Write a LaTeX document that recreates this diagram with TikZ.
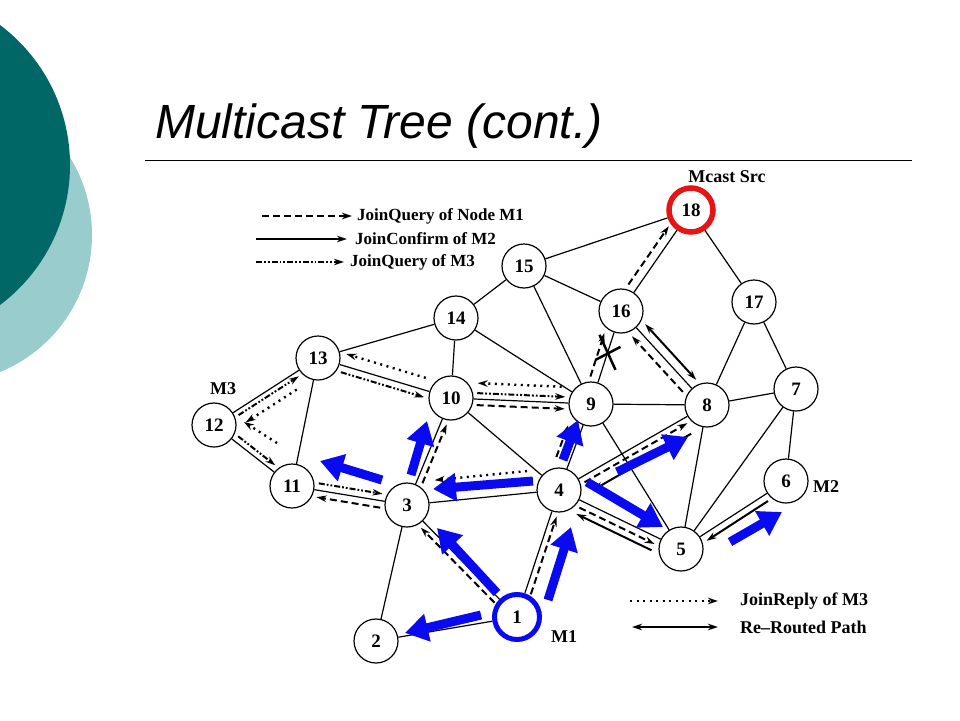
\documentclass[tikz,border=0pt]{standalone}
\usepackage{fontspec}
\setmainfont{Liberation Serif}
\newfontfamily\titlefont{Liberation Sans}
\usetikzlibrary{calc,arrows.meta}
\definecolor{darkteal}{RGB}{0,102,102}
\definecolor{lightteal}{RGB}{153,204,204}
\definecolor{blueC}{RGB}{10,10,240}
\definecolor{redC}{RGB}{230,20,20}
\newcommand\proto[6]{\draw[#1] ($(#2)!#5!(#3)!#4!90:(#3)$) -- ($(#3)!#6!(#2)!#4!-90:(#2)$);}
\tikzset{
  nd/.style={circle, draw, line width=1.2pt, minimum size=44pt, inner sep=0pt, font=\bfseries\fontsize{19}{19}\selectfont},
  edge/.style={line width=1.2pt},
  tipk/.style={-{Stealth[length=10pt,width=6.5pt]}},
  jqa/.style={tipk, line width=2pt, dash pattern=on 7pt off 4pt},
  jcb/.style={tipk, line width=2pt},
  jqc/.style={tipk, line width=2pt, dash pattern=on 6pt off 2pt on 1.8pt off 2pt on 1.8pt off 2pt},
  jrc/.style={tipk, line width=2.4pt, dash pattern=on 2pt off 4.5pt},
  rrt/.style={{Stealth[length=10pt,width=6.5pt]}-{Stealth[length=10pt,width=6.5pt]}, line width=2pt},
  bluearr/.style={draw=blueC, line width=9pt, -{Triangle[length=23pt,width=27pt]}},
  lbl/.style={font=\bfseries\fontsize{18}{18}\selectfont, inner sep=0pt},
  legtxt/.style={font=\bfseries\fontsize{17}{17}\selectfont, inner sep=0pt, anchor=west},
}
\begin{document}
\begin{tikzpicture}[x=1pt,y=-1pt]
\useasboundingbox (0,0) rectangle (960,720);
\begin{scope}
\clip (0,0) rectangle (960,720);
\fill[lightteal] (-56,235) circle[radius=148pt];
\fill[darkteal] (-105,165) circle[radius=175pt];
\end{scope}
% title
\node[anchor=base west, inner sep=0pt, font=\titlefont\itshape\fontsize{48}{56}\selectfont] (title) at (155,138) {Multicast Tree (cont.)};
\coordinate (ruleL) at (145,160);
\coordinate (ruleR) at (912,160);
\draw[line width=1pt] (ruleL) -- (ruleR);
% nodes
\node[nd, draw=blueC, line width=5pt, minimum size=45pt] (1) at (517,617) {1};
\node[nd] (2) at (376,641) {2};
\node[nd] (3) at (407,505) {3};
\node[nd] (4) at (559,490) {4};
\node[nd] (5) at (681,549) {5};
\node[nd] (6) at (786,481) {6};
\node[nd] (7) at (796,389) {7};
\node[nd] (8) at (707,405) {8};
\node[nd] (9) at (591,404) {9};
\node[nd] (10) at (451,398) {10};
\node[nd] (11) at (292,486) {11};
\node[nd] (12) at (214,425) {12};
\node[nd] (13) at (318,358) {13};
\node[nd] (14) at (456,318) {14};
\node[nd] (15) at (524,266) {15};
\node[nd] (16) at (621,311) {16};
\node[nd] (17) at (754,302) {17};
\node[nd, draw=redC, line width=5.5pt, minimum size=44pt] (18) at (691,210) {18};
% labels
\node[lbl] (m3) at (223,389) {M3};
\node[lbl] (m1) at (564,637) {M1};
\node[lbl] (m2) at (826,487) {M2};
\node[lbl] (src) at (727,177) {Mcast Src};
% edges
\draw[edge] (1)--(2) (1)--(3) (1)--(4) (2)--(3) (3)--(4) (3)--(10) (3)--(11)
  (4)--(10) (4)--(9) (4)--(8) (4)--(5) (5)--(9) (5)--(8) (5)--(7) (5)--(6)
  (6)--(7) (7)--(8) (7)--(17) (8)--(17) (8)--(16) (8)--(9) (9)--(16) (9)--(15)
  (9)--(14) (9)--(10) (10)--(14) (10)--(13) (13)--(14) (13)--(11) (13)--(12)
  (12)--(11) (14)--(15) (15)--(18) (15)--(16) (16)--(18) (17)--(18);
% JoinQuery of M1 (dashed)
\proto{jqa}{1}{3}{6pt}{26pt}{26pt}
\proto{jqa}{1}{4}{-6pt}{26pt}{26pt}
\proto{jqa}{3}{10}{-6pt}{26pt}{26pt}
\proto{jqa}{3}{11}{7pt}{26pt}{26pt}
\proto{jqa}{4}{5}{-7pt}{26pt}{26pt}
\proto{jqa}{4}{8}{-6pt}{26pt}{26pt}
\proto{jqa}{10}{9}{-6pt}{26pt}{26pt}
\proto{jqa}{9}{16}{9pt}{26pt}{26pt}
\proto{jqa}{16}{18}{9pt}{26pt}{26pt}
\proto{jqa}{8}{16}{9pt}{26pt}{26pt}
\proto{jqa}{4}{9}{14pt}{30pt}{28pt}
% JoinConfirm of M2 (solid)
\proto{jcb}{8}{4}{17pt}{28pt}{30pt}
\proto{jcb}{5}{4}{14pt}{26pt}{26pt}
\proto{jcb}{6}{5}{7pt}{26pt}{26pt}
% Re-routed
\proto{rrt}{16}{8}{9pt}{26pt}{26pt}
% JoinQuery of M3 (dash-dot-dot)
\proto{jqc}{12}{13}{-5pt}{26pt}{26pt}
\proto{jqc}{12}{11}{6pt}{26pt}{26pt}
\proto{jqc}{13}{10}{-7pt}{26pt}{26pt}
\proto{jqc}{11}{3}{7pt}{26pt}{26pt}
\proto{jqc}{10}{9}{6pt}{26pt}{26pt}
% JoinReply of M3 (dotted)
\proto{jrc}{9}{10}{-16pt}{30pt}{26pt}
\proto{jrc}{10}{13}{-12pt}{30pt}{26pt}
\proto{jrc}{13}{12}{15pt}{35pt}{28pt}
\proto{jrc}{4}{3}{-22pt}{30pt}{30pt}
\draw[jrc] ($(11)+(-15,-43)$) -- ($(12)+(30,-3)$);
% X mark
\coordinate (xm) at ($(9)!0.55!(16)$);
\draw[line width=2.5pt] ($(xm)+(-8,-18)$) -- ($(xm)+(8,17)$);
\draw[line width=2.5pt] ($(xm)+(-12,7)$) -- ($(xm)+(13,-6)$);
% legend top
\coordinate (la1) at (262,216); \coordinate (lb1) at (352,216);
\coordinate (la2) at (256,239); \coordinate (lb2) at (347,239);
\coordinate (la3) at (256,262); \coordinate (lb3) at (344,262);
\draw[jqa] (la1) -- (lb1);
\draw[jcb] (la2) -- (lb2);
\draw[jqc] (la3) -- (lb3);
\node[legtxt] (t1) at (357,216) {JoinQuery of Node M1};
\node[legtxt] (t2) at (355,239) {JoinConfirm of M2};
\node[legtxt] (t3) at (350,262) {JoinQuery of M3};
% legend bottom
\coordinate (la4) at (630,601); \coordinate (lb4) at (718,601);
\coordinate (la5) at (632,627); \coordinate (lb5) at (718,627);
\draw[jrc] (la4) -- (lb4);
\draw[rrt] (la5) -- (lb5);
\node[legtxt, font=\bfseries\fontsize{18}{18}\selectfont] (t4) at (740,601) {JoinReply of M3};
\node[legtxt, font=\bfseries\fontsize{18}{18}\selectfont] (t5) at (740,627) {Re--Routed Path};
% blue arrows
\draw[bluearr] ($(1)+(-36,-2)$) -- ($(2)+(29,-8)$);
\draw[bluearr] ($(1)+(-20,-24)$) -- ($(3)+(30,23)$);
\draw[bluearr] ($(1)+(31,-17)$) -- ($(4)+(12,37)$);
\draw[bluearr] ($(4)+(-26,-9)$) -- ($(3)+(26,-16)$);
\draw[bluearr] ($(3)+(-25,-25)$) -- ($(11)+(28,-25)$);
\draw[bluearr] ($(3)+(4,-30)$) -- ($(10)+(-24,23)$);
\draw[bluearr] ($(4)+(4,-30)$) -- ($(9)+(-13,16)$);
\draw[bluearr] ($(4)+(28,-8)$) -- ($(5)+(-18,-22)$);
\draw[bluearr] ($(4)+(58,-18)$) -- ($(8)+(-19,32)$);
\draw[bluearr] ($(5)+(49,-7)$) -- ($(6)+(-4,31)$);
\end{tikzpicture}
\end{document}
